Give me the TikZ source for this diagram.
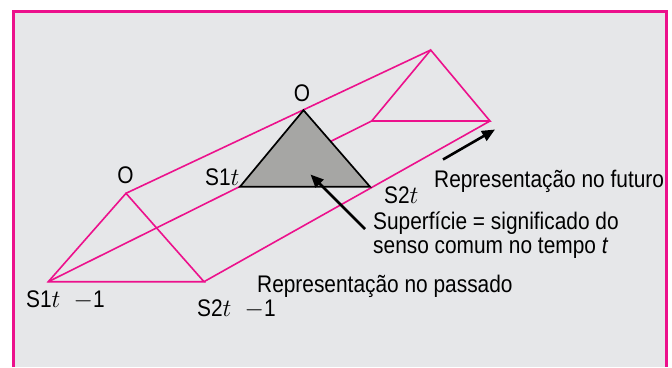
\documentclass[tikz,border=0pt]{standalone}
\usepackage{fontspec}
\setmainfont{Liberation Sans}[FakeStretch=0.87]
\usetikzlibrary{arrows.meta}
\definecolor{bgray}{HTML}{E6E7E9}
\definecolor{mag}{HTML}{EC118C}
\definecolor{tgray}{HTML}{A6A6A4}
\tikzset{
  edge/.style={draw=mag, line width=1.6pt, line join=miter},
  lbl/.style={inner sep=0pt, font=\fontsize{24}{25}\selectfont, text=black},
  pointer/.style={draw=black, line width=2.6pt, -{Triangle[length=13pt,width=11pt]}},
}
\begin{document}
\begin{tikzpicture}[x=1pt,y=-1pt]
\useasboundingbox (0,0) rectangle (672,367);
% frame
\fill[bgray] (13.5,11.5) rectangle (666.5,367);
\draw[mag, line width=2.6pt] (13.5,367) -- (13.5,11.5) -- (666.5,11.5) -- (666.5,367);
% vertices
\coordinate (LO) at (126,193.3);
\coordinate (LS1) at (48.3,281.7);
\coordinate (LS2) at (204,281.7);
\coordinate (MO) at (303.5,110.2);
\coordinate (MS1) at (240,186.7);
\coordinate (MS2) at (370,186.7);
\coordinate (RO) at (430.7,50);
\coordinate (RS1) at (371.7,121);
\coordinate (RS2) at (490,121);
% prism
\draw[edge] (LO) -- (LS1) -- (LS2) -- cycle;
\draw[edge] (RO) -- (RS1) -- (RS2) -- cycle;
\draw[edge] (LO) -- (RO);
\draw[edge] (LS1) -- (RS1);
\draw[edge] (LS2) -- (RS2);
% section at time t
\filldraw[fill=tgray, draw=black, line width=1.7pt, line join=miter] (MO) -- (MS1) -- (MS2) -- cycle;
% labels
\node[lbl, anchor=base] (oL) at (125.5,183) {O};
\node[lbl, anchor=base] (oM) at (302,101.5) {O};
\node[lbl, anchor=base west] (s1t) at (205,185) {S1$t$};
\node[lbl, anchor=base west] (s2t) at (384,203) {S2$t$};
\node[lbl, anchor=base west] (s1p) at (26,307) {S1$t$\hspace{0.55em}$-$1};
\node[lbl, anchor=base west] (s2p) at (197,316.5) {S2$t$\hspace{0.55em}$-$1};
\node[lbl, anchor=base west] (past) at (257,292.5) {Representação no passado};
\node[lbl, anchor=base west] (fut) at (434,187) {Representação no futuro};
\node[lbl, anchor=base west] (sup1) at (373,229.3) {Superfície = significado do};
\node[lbl, anchor=base west] (sup2) at (373,253.3) {senso comum no tempo \textit{t}};
% arrows
\coordinate (supTail) at (365,229);
\coordinate (supTip) at (310.5,174.5);
\coordinate (futTail) at (443,159.5);
\coordinate (futTip) at (495,129.5);
\draw[pointer] (supTail) -- (supTip);
\draw[pointer] (futTail) -- (futTip);
\end{tikzpicture}
\end{document}
